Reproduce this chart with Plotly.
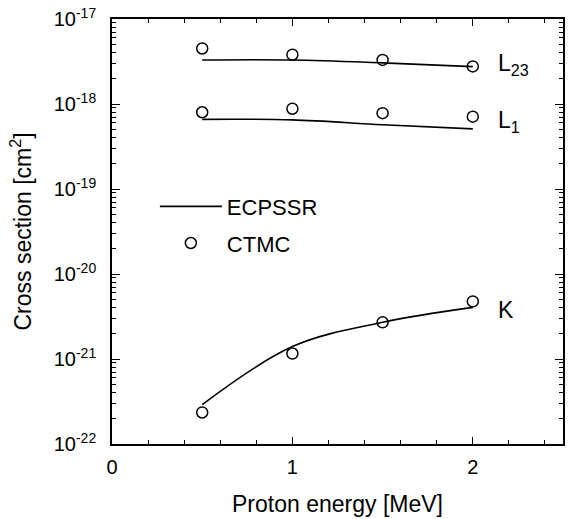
import math
import plotly.graph_objects as go

# Proton energy [MeV]
energy = [0.5, 1.0, 1.5, 2.0]

# ECPSSR theory curves (cm^2)
ecpssr_L23 = [3.3e-18, 3.3e-18, 3.05e-18, 2.75e-18]
ecpssr_L1 = [6.6e-19, 6.5e-19, 5.7e-19, 5.1e-19]
ecpssr_K = [2.9e-22, 1.4e-21, 2.7e-21, 4.05e-21]

# CTMC results (cm^2)
ctmc_L23 = [4.5e-18, 3.8e-18, 3.3e-18, 2.77e-18]
ctmc_L1 = [8.0e-19, 8.8e-19, 7.8e-19, 7.1e-19]
ctmc_K = [2.35e-22, 1.16e-21, 2.7e-21, 4.76e-21]

shell_labels = ["L<sub>23</sub>", "L<sub>1</sub>", "K"]
label_x = 2.13
label_y = [2.9e-18, 6.2e-19, 3.8e-21]

y_decades = [-22, -21, -20, -19, -18, -17]
y_ticktext = ["10<sup>%d</sup>" % d for d in y_decades]

FONT = "Liberation Sans, Arial, Helvetica, sans-serif"

fig = go.Figure()

for i, ec in enumerate([ecpssr_L23, ecpssr_L1, ecpssr_K]):
    fig.add_trace(go.Scatter(
        x=energy, y=ec, mode="lines", line=dict(color="black", width=1.6, shape="spline"),
        name="ECPSSR", legendgroup="ecpssr", showlegend=(i == 0),
    ))

for i, ct in enumerate([ctmc_L23, ctmc_L1, ctmc_K]):
    fig.add_trace(go.Scatter(
        x=energy, y=ct, mode="markers",
        marker=dict(symbol="circle-open", size=11, color="black", line=dict(width=1.5, color="black")),
        name="CTMC", legendgroup="ctmc", showlegend=(i == 0),
    ))

for txt, ly in zip(shell_labels, label_y):
    fig.add_annotation(x=label_x, y=math.log10(ly), text=txt, showarrow=False,
                       xanchor="left", yanchor="middle",
                       font=dict(family=FONT, size=23, color="black"))

minor_vals = [k * 10.0 ** d for d in y_decades[:-1] for k in range(2, 10)]

fig.update_layout(
    width=573, height=519,
    margin=dict(l=112, r=10, t=19, b=75),
    paper_bgcolor="white", plot_bgcolor="white",
    font=dict(family=FONT, size=20, color="black"),
    showlegend=True,
    legend=dict(x=0.095, y=0.608, xanchor="left", yanchor="top",
                bgcolor="rgba(0,0,0,0)", font=dict(size=22, family=FONT),
                itemwidth=62, tracegroupgap=5),
    xaxis=dict(
        range=[0, 2.5], tickmode="array", tickvals=[0, 1, 2], ticktext=["0", "1", "2"],
        ticks="inside", ticklen=7, tickwidth=1.3, tickcolor="black",
        showline=True, linecolor="black", linewidth=1.6, mirror="ticks",
        showgrid=False, zeroline=False, automargin=False,
        minor=dict(ticks="inside", ticklen=4, tickwidth=1.2, tickcolor="black",
                   tickmode="array", tickvals=[0.2, 0.4, 0.6, 0.8, 1.2, 1.4, 1.6, 1.8, 2.2, 2.4],
                   showgrid=False),
        ticklabelstandoff=4,
        title=dict(text="Proton energy [MeV]", font=dict(size=23, family=FONT), standoff=19),
    ),
    yaxis=dict(
        type="log", range=[-22, -17], tickmode="array",
        tickvals=[10.0 ** d for d in y_decades], ticktext=y_ticktext,
        ticks="inside", ticklen=8, tickwidth=1.3, tickcolor="black",
        showline=True, linecolor="black", linewidth=1.6, mirror="ticks",
        showgrid=False, zeroline=False, automargin=False,
        minor=dict(ticks="inside", ticklen=4, tickwidth=1.2, tickcolor="black",
                   tickmode="array", tickvals=minor_vals, showgrid=False),
        ticklabelstandoff=10,
        title=dict(text="Cross section [cm<sup>2</sup>]", font=dict(size=23, family=FONT), standoff=16),
    ),
)

fig.write_html("out.html")
